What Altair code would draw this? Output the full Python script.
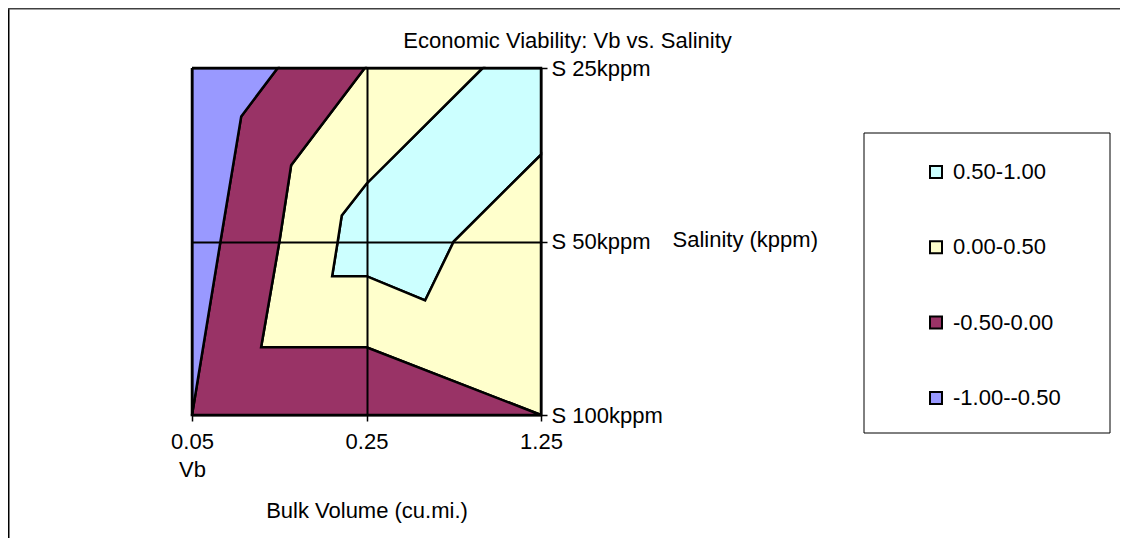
import altair as alt
import pandas as pd

# Category axes (positions 0, 1, 2 on each axis)
vb_labels = ["0.05", "0.25", "1.25"]
sal_labels = ["S 25kppm", "S 50kppm", "S 100kppm"]

# Contour bands (legend order) and Excel palette colours
bands = ["0.50-1.00", "0.00-0.50", "-0.50-0.00", "-1.00--0.50"]
band_colors = ["#CCFFFF", "#FFFFCC", "#993366", "#9999FF"]

# Band polygons, vertices in category units (Vb position, salinity position; 0 = S 25kppm)
cyan_vb = [1.666, 2.0, 2.0, 1.5, 1.336, 1.0, 0.803, 0.835, 0.858, 1.0, 1.666]
cyan_sal = [0.0, 0.0, 0.5, 1.0, 1.34, 1.2, 1.2, 1.0, 0.85, 0.667, 0.0]

yellow_vb = [0.99, 1.666, 1.0, 0.858, 0.835, 0.803, 1.0, 1.336, 1.5, 2.0, 2.0, 1.0, 0.396, 0.501, 0.568, 0.99]
yellow_sal = [0.0, 0.0, 0.667, 0.85, 1.0, 1.2, 1.2, 1.34, 1.0, 0.5, 2.0, 1.61, 1.61, 1.0, 0.561, 0.0]

purple_vb = [0.491, 0.99, 0.568, 0.501, 0.396, 1.0, 2.0, 0.0, 0.163, 0.282, 0.491]
purple_sal = [0.0, 0.0, 0.561, 1.0, 1.61, 1.61, 2.0, 2.0, 1.0, 0.279, 0.0]

blue_vb = [0.0, 0.491, 0.282, 0.163, 0.0, 0.0]
blue_sal = [0.0, 0.0, 0.279, 1.0, 2.0, 0.0]

rows = []
for band, us, ws in [
    (bands[0], cyan_vb, cyan_sal),
    (bands[1], yellow_vb, yellow_sal),
    (bands[2], purple_vb, purple_sal),
    (bands[3], blue_vb, blue_sal),
]:
    for i, (u, w) in enumerate(zip(us, ws)):
        rows.append({"band": band, "idx": i, "vb": u, "sal": w})
df = pd.DataFrame(rows)

FONT = "Liberation Sans"
W, H = 349, 347

x_label_expr = (
    f"datum.value == 0 ? ['{vb_labels[0]}', 'Vb'] : "
    f"datum.value == 1 ? '{vb_labels[1]}' : '{vb_labels[2]}'"
)
y_label_expr = (
    f"datum.value == 0 ? '{sal_labels[0]}' : "
    f"datum.value == 1 ? '{sal_labels[1]}' : '{sal_labels[2]}'"
)

polys = alt.Chart(df).mark_line(
    filled=True, stroke="black", strokeWidth=2.5, opacity=1, strokeJoin="miter"
).encode(
    x=alt.X(
        "vb:Q",
        scale=alt.Scale(domain=[0, 2], nice=False, zero=False),
        axis=alt.Axis(
            values=[0, 1, 2], labelExpr=x_label_expr, title="Bulk Volume (cu.mi.)",
            titleX=174.5, titleY=102, titleAlign="center", titleBaseline="alphabetic",
            titleFont=FONT, titleFontSize=22, titleFontWeight="normal", titleColor="black",
            labelFont=FONT, labelFontSize=22, labelColor="black", labelPadding=10,
            labelLineHeight=28.4, labelFlush=False, labelOverlap=False,
            tickSize=6, tickColor="black", tickWidth=1.5,
            grid=True, gridColor="black", gridWidth=2, gridOpacity=1,
            domain=False, zindex=1,
        ),
    ),
    y=alt.Y(
        "sal:Q",
        scale=alt.Scale(domain=[0, 2], nice=False, zero=False, reverse=True),
        axis=alt.Axis(
            orient="right", values=[0, 1, 2], labelExpr=y_label_expr,
            title="Salinity (kppm)", titleAngle=0, titleX=131, titleY=178,
            titleAlign="left", titleBaseline="alphabetic",
            titleFont=FONT, titleFontSize=22, titleFontWeight="normal", titleColor="black",
            labelFont=FONT, labelFontSize=22, labelColor="black", labelPadding=4,
            labelAlign="left", labelBaseline="middle", labelFlush=False, labelOverlap=False,
            tickSize=6, tickColor="black", tickWidth=1.5,
            grid=True, gridColor="black", gridWidth=2, gridOpacity=1,
            domain=False, zindex=1,
        ),
    ),
    color=alt.Color(
        "band:N",
        scale=alt.Scale(domain=bands, range=band_colors),
        legend=alt.Legend(
            title=None, orient="none", legendX=733, legendY=93,
            symbolType="square", symbolSize=144, symbolStrokeColor="black",
            symbolStrokeWidth=2, symbolOpacity=1,
            labelFont=FONT, labelFontSize=22, labelColor="black", labelOffset=6,
            rowPadding=53.3, padding=0,
        ),
    ),
    detail="band:N",
    order=alt.Order("idx:Q"),
)

one = pd.DataFrame({"a": [0]})
legend_frame = alt.Chart(one).mark_rect(
    fill="transparent", stroke="black", strokeWidth=1
).encode(x=alt.value(672), x2=alt.value(918), y=alt.value(65), y2=alt.value(365))

border_left = alt.Chart(one).mark_rule(color="black", strokeWidth=1.5).encode(
    x=alt.value(-183.25), y=alt.value(-59.25), y2=alt.value(470)
)
border_top = alt.Chart(one).mark_rule(color="#404040", strokeWidth=1.5).encode(
    y=alt.value(-59.25), x=alt.value(-184), x2=alt.value(928)
)

chart = alt.layer(polys, legend_frame, border_left, border_top).properties(
    width=W, height=H,
    title=alt.TitleParams(
        "Economic Viability: Vb vs. Salinity", font=FONT, fontSize=22,
        fontWeight="normal", color="black", anchor="middle", frame="group",
        dx=201, dy=61.7, offset=0, baseline="alphabetic",
    ),
    autosize=alt.AutoSizeParams(type="none"),
    padding={"left": 184, "top": 60, "right": 579, "bottom": 123},
).configure_view(stroke=None).configure(background="white")

chart.save("out.html", embed_options={"renderer": "svg", "actions": False})
